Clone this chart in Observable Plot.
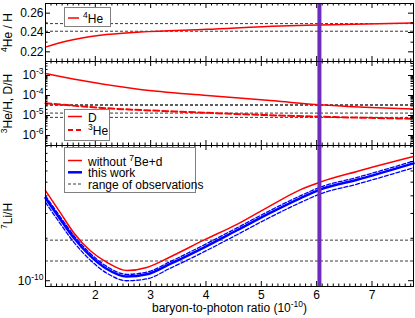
<!DOCTYPE html>
<html><head><meta charset="utf-8">
<script src="https://cdn.jsdelivr.net/npm/d3@7"></script>
<script src="https://cdn.jsdelivr.net/npm/@observablehq/plot@0.6"></script>
<style>
body{margin:0;background:#fff;font-family:"Liberation Sans",Arial,sans-serif;}
#wrap{position:relative;width:415px;height:318px;overflow:hidden;background:#fff;}
#wrap svg{position:absolute;left:0;overflow:visible;}
</style></head>
<body><div id="wrap"></div>
<script>
// ---------- data ----------
const etaHe = [1.1, 1.49, 2.09, 2.81, 4.02, 5.35, 6.06, 7.75];
const he4   = [0.2249, 0.2311, 0.2371, 0.2405, 0.2433, 0.2468, 0.2478, 0.2499];

const etaD = [1.1, 1.6, 2.81, 4.02, 5.22, 6.06, 7.75];
const dH   = [1.26e-3, 6.6e-4, 2.0e-4, 1.0e-4, 5.4e-5, 3.4e-5, 2.1e-5];

const eta3He = [1.1, 2.21, 3.42, 4.62, 6.06, 7.75];
const he3H   = [4.1e-5, 2.3e-5, 1.6e-5, 1.17e-5, 8.7e-6, 6.9e-6];

const etaLi = [1.1, 1.37, 1.61, 1.91, 2.21, 2.57, 2.93, 3.36, 3.96, 4.56, 5.16, 5.71, 6.06, 6.73, 7.75];
const liNoBeD    = [4.36e-10, 3.03e-10, 2.19e-10, 1.63e-10, 1.35e-10, 1.18e-10, 1.24e-10, 1.48e-10, 1.94e-10, 2.51e-10, 3.4e-10, 4.43e-10, 5.0e-10, 5.96e-10, 7.6e-10];
const liThisWork = [3.86e-10, 2.72e-10, 2.02e-10, 1.5e-10, 1.21e-10, 1.07e-10, 1.11e-10, 1.32e-10, 1.72e-10, 2.28e-10, 3.03e-10, 3.86e-10, 4.43e-10, 5.2e-10, 6.8e-10];
const liUpper    = [4.0e-10, 2.83e-10, 2.1e-10, 1.56e-10, 1.26e-10, 1.11e-10, 1.15e-10, 1.37e-10, 1.79e-10, 2.37e-10, 3.15e-10, 4.01e-10, 4.6e-10, 5.4e-10, 7.05e-10];
const liLower    = [3.6e-10, 2.53e-10, 1.88e-10, 1.4e-10, 1.13e-10, 1.0e-10, 1.03e-10, 1.23e-10, 1.6e-10, 2.12e-10, 2.82e-10, 3.59e-10, 4.12e-10, 4.84e-10, 6.33e-10];

const etaCMB = [6.05];
const obsHe  = [0.2413, 0.2492];
const obsD   = [3.25e-5, 3.45e-5];
const obs3He = [8.05e-6, 1.32e-5];
const obsLi  = [1.38e-10, 1.94e-10];

const xMajor = [2, 3, 4, 5, 6, 7];
const heTicks = [0.22, 0.24, 0.26];
const heMinor = [0.23, 0.25];
const midTicks = [1e-6, 1e-5, 1e-4, 1e-3];
const liTicks = [1e-10];

const labelHe = "^{4}He / H";
const labelMid = "^{3}He/H, D/H";
const labelLi = "^{7}Li/H";
const labelX = "baryon-to-photon ratio (10^{-10})";
const legendHe = ["^{4}He"];
const legendMid = ["D", "^{3}He"];
const legendLi = ["without ^{7}Be+d", "this work", "range of observations"];

// ---------- layout ----------
const W = 415, ML = 45, MR = 2, IW = W - ML - MR;
const xDomain = [1.1, 7.75];
const xMinor = d3.range(11, 78).map(i => i / 10).filter(v => Math.abs(v - Math.round(v)) > 1e-6);
function logMinor(lo, hi) {
  const out = [];
  for (let e = Math.floor(Math.log10(lo)); e <= Math.ceil(Math.log10(hi)); e++)
    for (let k = 2; k <= 9; k++) { const v = k * 10 ** e; if (v > lo && v < hi) out.push(v); }
  return out;
}
const RED = "#ff0000", BLUE = "#0000ff", PURPLE = "#6e2cbf", OBS = "#3a3a3a";
const font = {fontFamily: "Liberation Sans, Arial, sans-serif", fontSize: "12px", background: "transparent", overflow: "visible"};

function edgeTicks(h, yMaj, yMin) {
  const L = 5, l = 2.5;
  return [
    Plot.tickX(xMajor, {x: d => d, insetBottom: h - L}),
    Plot.tickX(xMajor, {x: d => d, insetTop: h - L}),
    Plot.tickX(xMinor, {x: d => d, insetBottom: h - l}),
    Plot.tickX(xMinor, {x: d => d, insetTop: h - l}),
    Plot.tickY(yMaj, {y: d => d, insetRight: IW - L}),
    Plot.tickY(yMaj, {y: d => d, insetLeft: IW - L}),
    Plot.tickY(yMin, {y: d => d, insetRight: IW - l}),
    Plot.tickY(yMin, {y: d => d, insetLeft: IW - l})
  ];
}
function yLabel(t) {
  return Plot.text([t], {text: d => d, frameAnchor: "left", textAnchor: "middle", lineAnchor: "middle", rotate: -90, dx: -37, fontSize: 12});
}
const cmb = Plot.ruleX(etaCMB, {x: d => d, stroke: PURPLE, strokeWidth: 4});

// Panel 1: 4He
const h1 = 58;
const p1 = Plot.plot({
  width: W, height: h1 + 3, marginTop: 3, marginBottom: 0, marginLeft: ML, marginRight: MR,
  style: font,
  x: {domain: xDomain, axis: null},
  y: {domain: [0.21, 0.27]},
  marks: [
    Plot.ruleY(obsHe, {y: d => d, stroke: OBS, strokeDasharray: "3,2", strokeWidth: 1}),
    Plot.line(etaHe.map((e, i) => ({e, v: he4[i]})), {x: "e", y: "v", stroke: RED, strokeWidth: 1.5, curve: "monotone-x"}),
    cmb,
    ...edgeTicks(h1, heTicks, heMinor),
    Plot.axisY({ticks: heTicks, anchor: "left", tickSize: 0, tickPadding: 2, tickFormat: d3.format(".2f"), fontSize: 12, label: null}),
    yLabel(labelHe),
    Plot.frame({stroke: "black"})
  ]
});

// Panel 2: D and 3He
const h2 = 84;
const mDom = [10 ** -6.5, 10 ** -2.3];
const p2 = Plot.plot({
  width: W, height: h2, marginTop: 0, marginBottom: 0, marginLeft: ML, marginRight: MR,
  style: font,
  x: {domain: xDomain, axis: null},
  y: {type: "log", domain: mDom},
  marks: [
    Plot.ruleY(obsD, {y: d => d, stroke: OBS, strokeDasharray: "3,2", strokeWidth: 1}),
    Plot.ruleY(obs3He, {y: d => d, stroke: OBS, strokeDasharray: "3,2", strokeWidth: 1}),
    Plot.line(etaD.map((e, i) => ({e, v: dH[i]})), {x: "e", y: "v", stroke: RED, strokeWidth: 1.5, curve: "monotone-x"}),
    Plot.line(eta3He.map((e, i) => ({e, v: he3H[i]})), {x: "e", y: "v", stroke: RED, strokeWidth: 2, strokeDasharray: "6,3", curve: "monotone-x"}),
    cmb,
    ...edgeTicks(h2, midTicks, logMinor(mDom[0], mDom[1])),
    Plot.axisY({ticks: midTicks, anchor: "left", tickSize: 0, tickPadding: 2, tickFormat: d => `10^{${Math.round(Math.log10(d))}}`, fontSize: 12, label: null}),
    yLabel(labelMid),
    Plot.frame({stroke: "black"})
  ]
});

// Panel 3: 7Li
const h3 = 141;
const lDom = [9.1e-11, 9.1e-10];
const liRows = etaLi.map((e, i) => ({e, a: liNoBeD[i], b: liThisWork[i], u: liUpper[i], l: liLower[i]}));
const p3 = Plot.plot({
  width: W, height: h3 + 32, marginTop: 0, marginBottom: 32, marginLeft: ML, marginRight: MR,
  style: font,
  x: {domain: xDomain},
  y: {type: "log", domain: lDom},
  marks: [
    Plot.ruleY(obsLi, {y: d => d, stroke: OBS, strokeDasharray: "3,2", strokeWidth: 1}),
    Plot.line(liRows, {x: "e", y: "u", stroke: BLUE, strokeWidth: 1.3, strokeDasharray: "4,2", curve: "monotone-x"}),
    Plot.line(liRows, {x: "e", y: "l", stroke: BLUE, strokeWidth: 1.3, strokeDasharray: "4,2", curve: "monotone-x"}),
    Plot.line(liRows, {x: "e", y: "b", stroke: BLUE, strokeWidth: 2.5, curve: "monotone-x"}),
    Plot.line(liRows, {x: "e", y: "a", stroke: RED, strokeWidth: 1.5, curve: "monotone-x"}),
    cmb,
    ...edgeTicks(h3, liTicks, logMinor(lDom[0], lDom[1])),
    Plot.axisY({ticks: liTicks, anchor: "left", tickSize: 0, tickPadding: 2, tickFormat: d => `10^{${Math.round(Math.log10(d))}}`, fontSize: 12, label: null}),
    Plot.axisX({ticks: xMajor, anchor: "bottom", tickSize: 0, tickPadding: 4, tickFormat: d => String(d), fontSize: 12, label: null}),
    yLabel(labelLi),
    Plot.text([labelX], {text: d => d, frameAnchor: "bottom", textAnchor: "middle", lineAnchor: "middle", dy: 22, fontSize: 12}),
    Plot.frame({stroke: "black"})
  ]
});

const wrap = document.getElementById("wrap");
[[p1, 0], [p2, 61], [p3, 145]].forEach(([p, top]) => { p.style.top = top + "px"; wrap.appendChild(p); });

// ---------- legends (overlay) ----------
const ns = "http://www.w3.org/2000/svg";
const ov = d3.select(wrap).append("svg").attr("width", W).attr("height", 318).style("top", "0px")
  .style("font-family", "Liberation Sans, Arial, sans-serif").style("font-size", "12px");
function legend(box, sw, tx, rows) {
  ov.append("rect").attr("x", box[0] + 0.5).attr("y", box[1] + 0.5).attr("width", box[2]).attr("height", box[3])
    .attr("fill", "#fff").attr("stroke", "#808080").attr("stroke-width", 1);
  rows.forEach(r => {
    ov.append("line").attr("x1", sw[0]).attr("x2", sw[1]).attr("y1", r.y).attr("y2", r.y)
      .attr("stroke", r.stroke).attr("stroke-width", r.w).attr("stroke-dasharray", r.dash || null);
    ov.append("text").attr("x", tx).attr("y", r.y + 5).text(r.label);
  });
}
legend([64, 7, 46, 19], [68, 79], 83, [{y: 18, label: legendHe[0], stroke: RED, w: 1.5}]);
legend([64, 109, 45, 31], [68, 82], 88, [
  {y: 116.5, label: legendMid[0], stroke: RED, w: 1.5},
  {y: 130, label: legendMid[1], stroke: RED, w: 2, dash: "5,3"}]);
legend([64, 147, 131, 45], [68, 82], 88, [
  {y: 160.5, label: legendLi[0], stroke: RED, w: 1.5},
  {y: 172.3, label: legendLi[1], stroke: BLUE, w: 2.5},
  {y: 184, label: legendLi[2], stroke: OBS, w: 1, dash: "3,2"}]);

// ---------- superscripts ----------
function supify(root) {
  root.querySelectorAll("text").forEach(t => {
    const s = t.textContent; if (!s.includes("^{")) return;
    const parts = []; const re = /\^\{([^}]*)\}/g; let last = 0, m;
    while ((m = re.exec(s))) { if (m.index > last) parts.push([s.slice(last, m.index), false]); parts.push([m[1], true]); last = re.lastIndex; }
    if (last < s.length) parts.push([s.slice(last), false]);
    while (t.firstChild) t.removeChild(t.firstChild);
    let raised = false;
    for (const [txt, sup] of parts) {
      const ts = document.createElementNS(ns, "tspan");
      ts.textContent = txt;
      if (sup) { ts.setAttribute("font-size", "8.5px"); if (!raised) { ts.setAttribute("dy", "-5"); raised = true; } }
      else if (raised) { ts.setAttribute("dy", "5"); raised = false; }
      t.appendChild(ts);
    }
  });
}
supify(wrap);
</script></body></html>
